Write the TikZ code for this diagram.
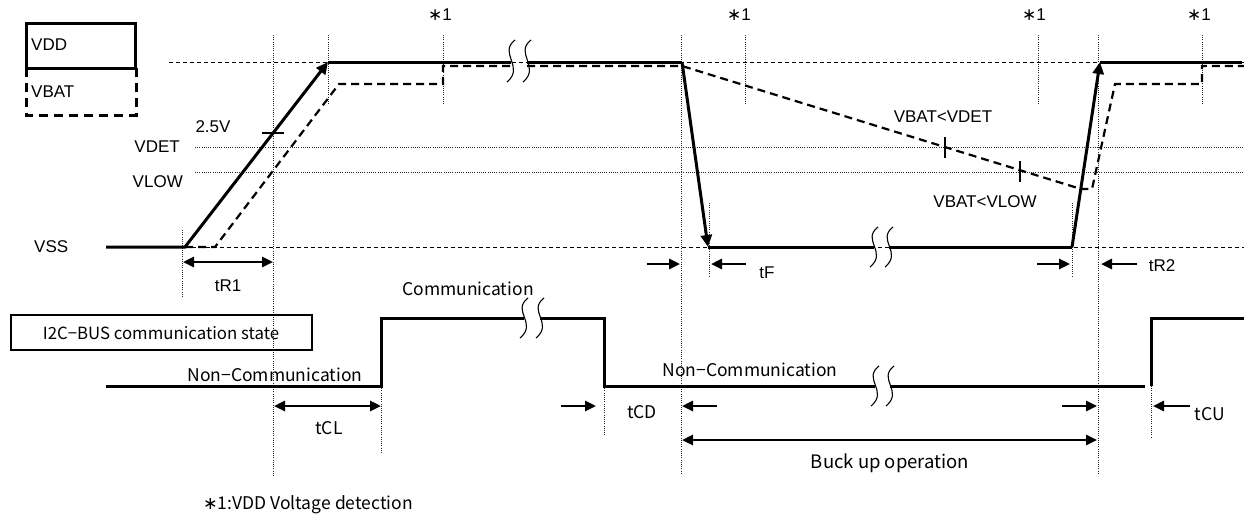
\documentclass[tikz,border=0pt]{standalone}
\usepackage{fontspec}
\setmainfont{Liberation Sans}
\newfontfamily\jpfont{Noto Sans CJK JP}
\newfontfamily\dvfont{DejaVu Sans}
\usetikzlibrary{arrows.meta}
\begin{document}
\begin{tikzpicture}[x=1pt,y=-1pt,
  every node/.style={inner sep=0pt,font=\fontsize{17}{20}\selectfont},
  jp/.style={font=\jpfont\fontsize{17.5}{20}\selectfont},
  sig/.style={line width=3pt},
  bat/.style={line width=2.2pt,dash pattern=on 8pt off 5pt},
  refl/.style={line width=0.9pt,dash pattern=on 4pt off 3pt},
  dots/.style={line width=0.9pt,dash pattern=on 1pt off 1.2pt,black!85},
  tim/.style={line width=2.6pt,-{Triangle[length=11pt,width=10pt]}},
  dtim/.style={line width=2.6pt,{Triangle[length=11pt,width=10pt]}-{Triangle[length=11pt,width=10pt]}},
  sigarr/.style={line width=3pt,-{Triangle[length=12pt,width=11pt]}},
  brk/.style={line width=1.1pt},
  tickm/.style={line width=2.4pt},
  brkmark/.pic={\draw[brk] (4,-21) .. controls (-13,-8) and (14,6) .. (-4,21);},
  brkmarks/.pic={\draw[brk] (4,-20) .. controls (-13,-7) and (14,5) .. (-4,20);}
]
\useasboundingbox (0,0) rectangle (1244,515);

% reference levels
\draw[refl] (169,62) -- (1244,62);
\draw[refl] (185,247) -- (1244,247);
\draw[dots] (195,147) -- (1244,147);
\draw[dots] (195,172) -- (1244,172);

% vertical guides
\foreach \x/\a/\b in {273/35/477, 328/35/105, 443/35/105, 681/35/475, 745/35/105,
  1038/35/105, 1098/35/475, 1202/35/105, 182/230/298, 709/203/277, 1072/203/277,
  381/386/453, 604/386/435, 1151/386/437}
  \draw[dots] (\x,\a) -- (\x,\b);

% legend
\draw[line width=3pt,dash pattern=on 9pt off 6pt] (26,68) -- (26,115) -- (136,115) -- (136,68);
\draw[line width=3pt] (26,23) rectangle (135,68);
\node[anchor=west] (vdd) at (31,45) {VDD};
\node[anchor=west] (vbat) at (31,92) {VBAT};

% level labels
\node (v25) at (213,127) {2.5V};
\node[anchor=east] (vdet) at (180,147) {VDET};
\node[anchor=east] (vlow) at (183,182) {VLOW};
\node[anchor=west] (vss) at (34,247) {VSS};
\draw[tickm] (262,133) -- (284,133);

% *1 markers
\foreach \x/\n in {440/a,739/b,1034/c,1199/d}
  \node (s\n) at (\x,15) {{\dvfont ∗}1};

% VBAT (dashed)
\draw[bat] (185,247) -- (215,247) -- (339,84) -- (443,84) -- (443,66) -- (511,66);
\draw[bat] (527,66) -- (682,66) -- (1081,189) -- (1092,189) -- (1115,84) -- (1202,84) -- (1202,66) -- (1244,66);
\draw[tickm] (945,137) -- (945,158);
\draw[tickm] (1020,161) -- (1020,182);
\node (vbdet) at (943,117) {VBAT<VDET};
\node (vblow) at (985,202) {VBAT<VLOW};

% VDD (solid)
\draw[sigarr] (106,247) -- (185,247) -- (328,62);
\draw[sig] (328,62) -- (511,62);
\draw[sig] (527,62) -- (682,62);
\draw[sigarr] (682,62) -- (708,247);
\draw[sig] (708,247) -- (874,247);
\draw[sig] (889,247) -- (1072,247);
\draw[sigarr] (1072,247) -- (1100,62);
\draw[sig] (1100,62) -- (1242,62);
\pic at (511,61) {brkmark};
\pic at (527,61) {brkmark};
\pic at (874,247) {brkmarks};
\pic at (889,247) {brkmarks};

% VDD timing
\draw[dtim] (183,262) -- (273,262);
\node (tr1) at (228,286) {tR1};
\draw[tim] (647,264) -- (680,264);
\draw[tim] (746,264) -- (711,264);
\node (tf) at (767,273) {tF};
\draw[tim] (1037,264) -- (1070,264);
\draw[tim] (1137,264) -- (1101,264);
\node (tr2) at (1162,266) {tR2};

% I2C bus
\draw[line width=2.6pt] (11,315) rectangle (312,350);
\node[jp,font=\jpfont\fontsize{16.8}{20}\selectfont] (i2c) at (161,333) {I2C−BUS communication state};
\draw[sig] (106,386) -- (381,386) -- (381,318) -- (524,318);
\draw[sig] (540,318) -- (604,318) -- (604,386) -- (875,386);
\draw[sig] (890,386) -- (1145,386);
\draw[sig] (1151,386) -- (1151,318) -- (1244,318);
\pic at (524,318) {brkmarks};
\pic at (540,318) {brkmarks};
\pic at (875,386) {brkmarks};
\pic at (890,386) {brkmarks};
\node[jp] (com) at (468,289) {Communication};
\node[jp] (nc1) at (275,375) {Non−Communication};
\node[jp] (nc2) at (750,370) {Non−Communication};

% I2C timing
\draw[dtim] (274,406) -- (381,406);
\node[jp] (tcl) at (329,428) {tCL};
\draw[tim] (561,406) -- (596,406);
\draw[tim] (717,406) -- (682,406);
\node[jp] (tcd) at (642,412) {tCD};
\draw[tim] (1062,406) -- (1097,406);
\draw[tim] (1190,406) -- (1153,406);
\node[jp] (tcu) at (1210,414) {tCU};
\draw[dtim] (682,440) -- (1097,440);
\node[jp,font=\jpfont\fontsize{18.5}{20}\selectfont] (buck) at (890,463) {Buck up operation};

\node[jp] (note) at (308,505) {{\dvfont ∗}1:VDD Voltage detection};
\end{tikzpicture}
\end{document}
